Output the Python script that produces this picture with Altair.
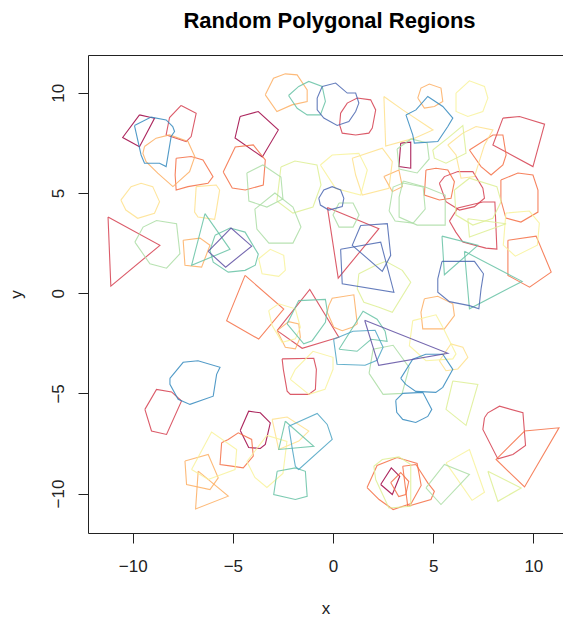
import altair as alt
import pandas as pd

# Spectral-like palette used for the outlines
palette = {
    "DR": "#9E0142", "CR": "#D53E4F", "OR": "#F46D43", "LO": "#FDAE61",
    "YE": "#FEE08B", "PY": "#F8F29A", "YG": "#DDEF93", "LG": "#ABDDA4",
    "T": "#66C2A5", "TB": "#4BA3C3", "B": "#3288BD", "DB": "#4A66B0", "P": "#5E4FA2",
}

dark_red_polys = [
    [(-9.66, 8.9), (-8.91, 8.73), (-9.66, 7.31), (-10.5, 7.77)],
    [(-4.63, -6.85), (-4.21, -5.89), (-3.63, -5.97), (-3.13, -6.47), (-3.38, -7.55), (-3.63, -7.75), (-4.21, -7.7)],
    [(-4.64, 8.82), (-3.73, 9.07), (-2.73, 8.15), (-3.53, 6.8), (-4.89, 7.75)],
    [(2.38, -9.55), (2.91, -8.72), (3.33, -9.14), (2.96, -10.05)],
    [(3.38, 7.49), (3.88, 7.54), (3.88, 6.24), (3.29, 6.32)],
]
red_polys = [
    [(-7.58, 9.37), (-6.83, 8.98), (-7.08, 7.82), (-7.33, 7.57), (-8.33, 7.9), (-8.16, 8.77)],
    [(-11.23, 3.8), (-8.64, 2.39), (-11.09, 0.35)],
    [(-9.39, -5.8), (-8.81, -4.8), (-8.06, -4.93), (-7.56, -5.38), (-8.31, -7.05), (-9.06, -6.88)],
    [(7.56, -6.22), (7.73, -5.97), (8.31, -5.64), (9.48, -5.97), (9.61, -7.6), (8.98, -8.05), (8.23, -8.27), (7.48, -6.8)],
    [(-0.28, 4.28), (2.29, 3.22), (0.26, 0.75)],
    [(-2.79, -1.87), (-1.16, 0.19), (0.29, -2.2), (-1.54, -2.75)],
    [(-2.54, -3.28), (-0.96, -3.25), (-0.83, -3.8), (-0.88, -4.8), (-1.21, -5.05), (-2.13, -5.05), (-2.29, -4.89), (-2.48, -3.8)],
    [(0.38, 8.99), (0.71, 9.49), (1.21, 9.74), (1.88, 9.65), (2.13, 9.15), (1.96, 8.24), (1.79, 7.99), (1.13, 7.9), (0.46, 7.99), (0.33, 8.4)],
    [(8.48, 8.74), (9.31, 8.82), (10.56, 8.44), (9.98, 6.32), (7.98, 7.4)],
    [(5.31, 5.49), (5.56, 5.82), (6.23, 6.07), (6.98, 6.07), (7.48, 5.24), (7.56, 4.74), (7.06, 4.32), (6.31, 4.15), (5.64, 4.57)],
    [(5.81, 3.6), (6.23, 4.25), (7.48, 4.55), (8.08, 4.55), (8.18, 2.2), (7.63, 2.25), (6.48, 2.55), (6.13, 3.05)],
]
orange_polys = [
    [(-7.83, 6.74), (-7.08, 6.82), (-6.49, 6.65), (-5.99, 5.82), (-6.24, 5.49), (-7.24, 5.32), (-7.83, 5.15), (-7.88, 5.9)],
    [(-4.39, 0.89), (-2.46, -0.79), (-3.71, -2.29), (-5.31, -1.37)],
    [(-5.56, -7.47), (-5.23, -7.3), (-4.73, -6.97), (-4.06, -7.3), (-3.98, -8.13), (-4.48, -8.72), (-5.06, -8.63), (-5.64, -8.55)],
    [(1.7, -9.7), (2.2, -8.6), (3.2, -8.2), (4.2, -8.5), (4.4, -9.6), (3.9, -10.5), (3.0, -10.8), (2.3, -10.3)],
    [(2.88, -9.45), (3.38, -8.95), (3.78, -9.4), (3.63, -10.05), (3.28, -10.15)],
    [(9.56, -6.88), (11.28, -6.72), (9.56, -9.67), (8.14, -8.3)],
    [(3.48, -8.64), (4.14, -8.55), (4.73, -9.47), (5.06, -9.89), (4.89, -10.3), (3.73, -10.64)],
    [(-5.48, 6.05), (-4.88, 7.3), (-3.98, 7.4), (-3.38, 6.65), (-3.48, 5.4), (-4.38, 5.15), (-5.03, 5.25)],
    [(6.81, 7.15), (7.98, 7.9), (8.48, 7.9), (8.64, 6.9), (8.48, 6.4), (7.89, 5.9), (7.39, 6.32)],
    [(4.64, 6.15), (5.14, 6.24), (5.73, 6.15), (6.06, 5.57), (5.89, 4.74), (5.31, 4.65), (4.56, 4.9)],
    [(8.38, 5.65), (9.23, 6.0), (9.98, 5.9), (10.23, 5.15), (10.23, 4.05), (9.38, 3.55), (8.63, 3.75), (8.38, 4.65)],
    [(8.73, 2.64), (10.14, 2.85), (10.89, 1.05), (9.81, 0.3), (8.73, 0.89)],
]
light_orange_polys = [
    [(-9.41, 7.32), (-8.83, 7.74), (-8.16, 7.9), (-7.24, 7.57), (-6.9, 6.82), (-7.16, 6.07), (-7.99, 5.32), (-8.75, 5.99), (-9.33, 6.57), (-9.49, 6.98)],
    [(-7.48, 2.64), (-6.64, 2.75), (-6.14, 2.39), (-6.56, 1.3), (-7.39, 1.39)],
    [(-7.39, -8.38), (-6.23, -8.05), (-5.73, -9.22), (-6.14, -9.8), (-7.31, -9.55)],
    [(-6.73, -8.88), (-5.23, -10.13), (-6.86, -10.77)],
    [(-0.21, -0.62), (-0.04, -0.25), (1.04, -0.08), (1.21, -1.53), (0.96, -1.7), (0.46, -1.87), (0.04, -1.7), (-0.29, -0.95)],
    [(-2.79, -1.87), (-2.21, -1.42), (-1.71, -1.53), (-1.63, -2.2), (-1.88, -2.78), (-2.38, -2.7)],
    [(-3.38, 9.9), (-2.97, 10.73), (-2.38, 10.95), (-1.79, 10.9), (-1.29, 10.15), (-1.29, 9.57), (-2.05, 9.4), (-2.8, 9.07)],
    [(4.23, 9.74), (4.39, 10.24), (4.81, 10.44), (5.39, 10.24), (5.48, 9.57), (5.06, 9.32), (4.56, 9.24)],
    [(2.54, 5.82), (3.29, 6.15), (3.46, 5.32), (2.96, 5.07)],
    [(4.56, -0.28), (5.23, -0.15), (5.98, -0.53), (6.06, -1.12), (5.56, -1.78), (4.48, -1.78), (4.39, -0.95)],
]
yellow_polys = [
    [(-10.59, 4.65), (-10.08, 5.32), (-9.58, 5.49), (-9.0, 5.32), (-8.66, 4.57), (-8.91, 3.99), (-9.75, 3.74), (-10.34, 4.15)],
    [(-6.83, 5.32), (-5.83, 5.4), (-5.66, 5.15), (-5.84, 4.05), (-5.91, 3.69), (-6.74, 3.8), (-6.91, 4.05)],
    [(-3.04, -6.3), (-2.29, -6.18), (-1.21, -6.88), (-1.71, -7.38), (-2.71, -7.8)],
    [(0.96, 6.74), (2.46, 7.24), (2.96, 6.57), (2.79, 5.24), (1.46, 4.9), (1.13, 5.9)],
    [(2.54, 9.82), (3.48, 9.15), (4.99, 8.15), (4.07, 7.74), (2.63, 7.34)],
    [(5.73, 7.4), (6.48, 7.99), (7.14, 8.32), (7.98, 8.15), (7.56, 7.4), (7.06, 5.82), (6.39, 5.74), (6.14, 6.9)],
    [(5.31, -3.37), (5.89, -2.53), (6.48, -2.7), (6.73, -3.2), (6.23, -3.78), (5.64, -3.87)],
]
pale_yellow_polys = [
    [(-7.06, -8.8), (-6.06, -6.93), (-4.81, -7.8), (-4.89, -8.8), (-6.23, -9.3)],
    [(-4.3, -8.4), (-3.9, -9.2), (-3.3, -9.7), (-2.5, -9.0), (-2.3, -7.4), (-3.3, -7.1)],
    [(5.64, -8.47), (6.81, -7.8), (7.56, -9.94), (6.94, -10.34)],
    [(-3.71, 1.72), (-3.13, 2.19), (-2.46, 1.89), (-2.38, 1.14), (-2.71, 0.84), (-3.54, 0.97)],
    [(-3.21, -0.87), (-2.71, -0.53), (-1.88, -0.78), (-1.63, -1.7), (-1.88, -2.28), (-2.54, -2.45), (-3.04, -1.62)],
    [(-2.13, -4.3), (-1.88, -3.8), (-1.0, -2.9), (0.0, -3.2), (0.0, -3.8), (-0.4, -4.8), (-1.2, -5.05)],
    [(-0.63, 6.4), (-0.04, 6.9), (1.29, 6.98), (1.71, 6.15), (1.38, 4.9), (0.13, 5.23)],
    [(6.14, 9.99), (6.81, 10.6), (7.56, 10.32), (7.73, 9.74), (7.48, 9.07), (6.73, 8.82), (6.14, 9.07)],
    [(8.63, 4.0), (9.8, 4.1), (10.3, 3.5), (10.2, 2.4), (9.1, 1.85), (8.5, 2.4)],
    [(3.98, -1.37), (5.14, -1.08), (5.48, -1.7), (6.14, -3.03), (5.98, -3.28), (4.64, -3.37), (3.81, -2.62)],
]
yellow_green_polys = [
    [(2.04, -8.64), (2.46, -8.3), (3.29, -8.17), (3.88, -8.55), (3.88, -10.64), (2.79, -10.72), (2.13, -9.3)],
    [(5.98, -4.38), (7.23, -4.55), (6.64, -6.6), (5.64, -5.8)],
    [(7.73, -8.89), (9.39, -9.72), (8.23, -10.39)],
    [(1.29, 0.97), (2.13, 1.39), (2.63, 1.59), (3.46, 1.14), (3.88, 0.55), (2.96, -0.95), (2.29, -0.7), (1.54, -0.45), (1.21, 0.22)],
    [(-2.6, 6.3), (-1.9, 6.6), (-0.8, 6.4), (-0.6, 5.4), (-1.0, 4.3), (-2.0, 4.0), (-2.8, 4.6)],
    [(4.98, 7.15), (5.73, 7.74), (6.48, 8.37), (6.64, 6.99), (5.64, 6.49), (5.06, 6.74)],
    [(6.06, 5.15), (6.81, 5.74), (8.18, 5.32), (8.39, 4.57), (7.98, 3.74), (6.98, 3.4), (6.14, 3.9)],
    [(6.73, 3.72), (8.64, 3.47), (6.81, 2.8)],
]
light_green_polys = [
    [(-9.89, 2.55), (-9.48, 3.3), (-8.81, 3.63), (-7.81, 3.47), (-7.64, 1.97), (-8.31, 1.25), (-9.14, 1.47)],
    [(4.64, -9.72), (5.56, -8.55), (6.81, -9.05), (5.39, -10.55)],
    [(1.8, -4.0), (2.5, -5.05), (3.45, -5.0), (3.8, -3.7), (3.0, -2.6), (2.0, -2.8)],
    [(-4.3, 6.0), (-3.5, 6.4), (-2.6, 5.8), (-2.5, 4.7), (-3.3, 4.3), (-4.2, 4.6)],
    [(-3.9, 4.2), (-2.9, 5.0), (-2.0, 4.3), (-1.6, 3.3), (-2.0, 2.5), (-3.2, 2.5), (-3.8, 3.2)],
    [(3.5, 5.6), (4.6, 5.3), (5.6, 4.9), (5.6, 3.4), (4.2, 3.4), (3.3, 3.8), (3.3, 4.8)],
    [(3.2, 7.2), (3.9, 7.7), (4.7, 7.5), (4.8, 6.7), (4.2, 6.0), (3.3, 6.2)],
    [(2.8, 4.1), (3.0, 5.3), (3.5, 5.5), (4.5, 5.3), (4.6, 4.2), (4.0, 3.5), (3.1, 3.6)],
    [(0.3, 4.5), (1.0, 4.5), (1.3, 3.9), (1.0, 3.3), (0.3, 3.3), (0.0, 3.9)],
]
teal_polys = [
    [(-6.39, 3.97), (-5.14, 2.19), (-7.06, 1.39)],
    [(-5.89, 2.89), (-5.14, 3.25), (-4.39, 3.05), (-3.73, 1.95), (-3.88, 1.4), (-4.39, 1.14), (-5.23, 1.05), (-5.98, 1.55), (-6.14, 2.14)],
    [(-2.38, -6.39), (-0.96, -7.64), (-2.71, -7.8)],
    [(-2.79, -8.89), (-1.88, -8.72), (-1.38, -8.89), (-1.29, -10.14), (-1.88, -10.3), (-2.96, -10.05)],
    [(-2.29, -1.53), (-1.71, -0.37), (-0.38, -0.31), (-0.29, -0.86), (-0.38, -1.45), (-1.04, -2.37), (-1.46, -2.53)],
    [(0.3, -2.8), (1.5, -0.9), (2.2, -1.3), (2.6, -1.9), (2.7, -2.4), (1.9, -2.3), (1.2, -2.9)],
    [(-2.22, 9.87), (-1.71, 10.32), (-1.21, 10.57), (-0.54, 10.32), (-0.38, 9.57), (-0.63, 8.9), (-1.29, 8.9), (-1.79, 9.23)],
    [(5.44, 2.85), (7.23, 2.39), (5.56, 0.92)],
    [(6.56, 2.09), (9.44, 0.59), (6.81, -0.78)],
]
teal_blue_polys = [
    [(-2.21, -6.64), (-0.79, -6.0), (-0.29, -6.55), (-0.04, -7.3), (-1.71, -8.8), (-1.88, -8.64), (-2.04, -7.72)],
    [(0.03, -2.3), (0.2, -3.55), (1.6, -3.6), (2.2, -3.35), (2.5, -2.7), (2.1, -1.85), (1.0, -1.9)],
]
blue_polys = [
    [(-9.91, 8.37), (-9.08, 8.79), (-8.33, 8.65), (-8.0, 8.32), (-7.91, 8.07), (-8.08, 7.82), (-8.33, 6.32), (-8.66, 6.49), (-9.41, 6.49), (-9.58, 6.9)],
    [(-8.14, -4.25), (-7.48, -3.45), (-6.74, -3.37), (-5.64, -3.7), (-5.81, -4.05), (-5.98, -5.14), (-7.14, -5.55), (-7.73, -5.3), (-8.14, -4.55)],
    [(3.13, -5.35), (3.48, -5.0), (4.48, -4.95), (4.93, -5.8), (4.73, -6.15), (4.13, -6.45), (3.48, -6.3), (3.18, -5.95)],
    [(3.38, -4.25), (3.98, -3.3), (4.63, -3.05), (5.48, -3.05), (5.98, -3.8), (5.48, -4.7), (5.13, -4.95), (4.13, -4.9), (3.63, -4.55)],
    [(3.64, 8.9), (4.14, 9.15), (4.73, 9.82), (5.48, 9.32), (5.98, 8.74), (5.73, 8.32), (5.23, 7.57), (4.06, 7.49), (3.98, 7.9)],
]
dark_blue_polys = [
    [(1.38, 3.38), (2.71, 3.47), (2.88, 1.89), (2.46, 1.09), (0.96, 2.39)],
    [(0.38, 2.19), (2.38, 2.55), (3.04, 0.05), (0.46, 0.47)],
    [(-0.54, 10.32), (0.13, 10.49), (0.71, 9.99), (1.13, 9.99), (1.29, 9.49), (1.13, 9.07), (0.79, 8.57), (0.21, 8.37), (-0.46, 8.74), (-0.79, 9.15), (-0.79, 9.74)],
    [(5.44, 1.59), (7.06, 1.59), (7.51, 0.97), (7.39, 0.22), (7.28, -0.78), (6.81, -0.62), (5.81, -0.42), (5.23, 0.05), (5.23, 0.72)],
    [(-0.71, 4.74), (-0.46, 5.15), (-0.04, 5.32), (0.38, 5.15), (0.54, 4.74), (0.46, 4.32), (-0.21, 4.15), (-0.63, 4.4)],
]
purple_polys = [
    [(-6.23, 2.09), (-5.09, 3.25), (-4.06, 2.35), (-5.36, 1.3)],
    [(1.58, -1.35), (5.73, -3.0), (2.28, -3.6)],
]

groups = [
    ("DR", dark_red_polys), ("CR", red_polys), ("OR", orange_polys),
    ("LO", light_orange_polys), ("YE", yellow_polys), ("PY", pale_yellow_polys),
    ("YG", yellow_green_polys), ("LG", light_green_polys), ("T", teal_polys),
    ("TB", teal_blue_polys), ("B", blue_polys), ("DB", dark_blue_polys),
    ("P", purple_polys),
]

rows = []
pid = 0
for key, polys in groups:
    for poly in polys:
        pid += 1
        for i, (px, py) in enumerate(poly + [poly[0]]):
            rows.append({"pid": pid, "ord": i, "x": px, "y": py, "col": palette[key]})
df = pd.DataFrame(rows)

FONT = "Liberation Sans"

chart = alt.Chart(df).mark_line(strokeWidth=1.1, opacity=0.85, clip=True).encode(
    x=alt.X("x:Q",
            scale=alt.Scale(domain=[-12.23, 11.48], nice=False, zero=False),
            axis=alt.Axis(values=[-10, -5, 0, 5, 10], title="x", grid=False,
                          domain=False, tickSize=10, tickColor="#222",
                          labelFontSize=17, labelPadding=15, labelColor="#222",
                          labelFont=FONT, titleFont=FONT, titleFontSize=17,
                          titleFontWeight="normal", titleColor="#222",
                          titlePadding=26)),
    y=alt.Y("y:Q",
            scale=alt.Scale(domain=[-11.97, 11.89], nice=False, zero=False),
            axis=alt.Axis(values=[-10, -5, 0, 5, 10], title="y", grid=False,
                          domain=False, tickSize=10, tickColor="#222",
                          labelFontSize=17, labelPadding=11, labelColor="#222",
                          labelAngle=270, labelAlign="center", labelBaseline="bottom",
                          labelFont=FONT, titleFont=FONT, titleFontSize=17,
                          titleFontWeight="normal", titleColor="#222",
                          titlePadding=24)),
    detail="pid:N",
    order="ord:Q",
    color=alt.Color("col:N", scale=None),
).properties(
    width=475,
    height=478,
    title=alt.TitleParams("Random Polygonal Regions", font=FONT, fontSize=22,
                          fontWeight="bold", color="#000", anchor="middle",
                          offset=22, dx=4),
    autosize=alt.AutoSizeParams(type="none"),
    padding={"left": 80, "top": 47, "right": 0, "bottom": 88},
).configure_view(stroke="#222", strokeWidth=1)

chart.save("out.html", embed_options={"renderer": "svg", "actions": False})
